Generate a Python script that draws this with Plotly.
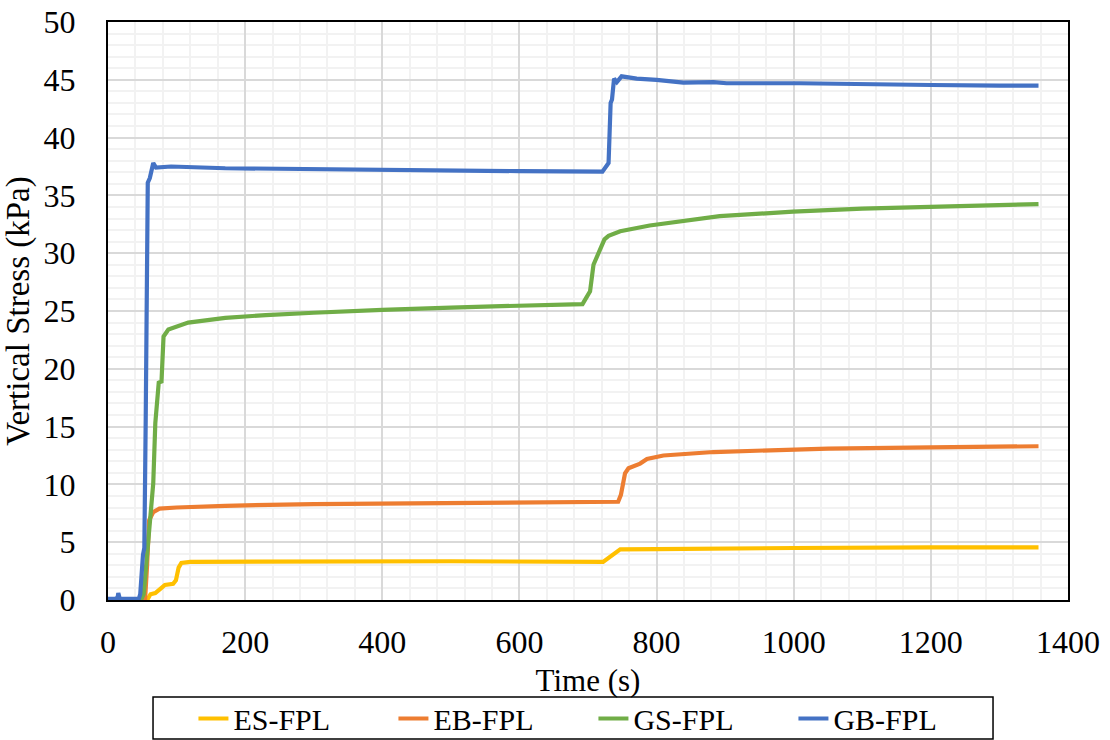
import plotly.graph_objects as go

# ---- data ----
es_t = [0, 57, 62, 69, 75, 83, 95, 99, 103, 107, 120, 300, 500, 722, 733, 747, 800, 883, 1000, 1200, 1357]
es_v = [0, 0, 0.5, 0.6, 0.9, 1.3, 1.4, 1.7, 2.8, 3.2, 3.3, 3.35, 3.35, 3.3, 3.75, 4.38, 4.4, 4.45, 4.5, 4.55, 4.55]

eb_t = [0, 54, 57, 60, 66, 75, 100, 171, 300, 400, 500, 600, 700, 744, 748, 754, 759, 776, 786, 810, 883, 1000, 1050, 1200, 1357]
eb_v = [0, 0, 3.0, 6.9, 7.6, 7.9, 8.0, 8.15, 8.3, 8.35, 8.4, 8.45, 8.5, 8.5, 9.1, 10.96, 11.4, 11.8, 12.2, 12.5, 12.8, 13.0, 13.1, 13.2, 13.3]

gs_t = [0, 48, 52, 56, 62, 66, 69, 74, 78, 81, 88, 117, 171, 230, 300, 350, 400, 500, 600, 692, 698, 703, 708, 713, 718, 724, 730, 747, 790, 892, 999, 1100, 1199, 1300, 1357]
gs_v = [0, 0, 0.5, 3.2, 6.5, 10.1, 15.3, 18.8, 18.9, 22.8, 23.4, 24.0, 24.4, 24.65, 24.85, 25.0, 25.1, 25.3, 25.45, 25.6, 26.2, 26.7, 29.0, 29.7, 30.3, 31.2, 31.5, 31.9, 32.4, 33.2, 33.6, 33.85, 34.0, 34.15, 34.25]

gb_t = [0, 10, 14, 15, 17, 20, 45, 47, 51, 53, 55, 58, 61, 63, 66, 70, 92, 171, 300, 400, 500, 600, 721, 730, 733, 735, 738, 742, 749, 771, 800, 839, 883, 902, 1009, 1100, 1200, 1300, 1357]
gb_v = [0.1, 0.1, 0.2, 0.6, 0.15, 0.1, 0.1, 0.5, 3.9, 4.5, 15.6, 36.1, 36.5, 37.0, 37.8, 37.4, 37.5, 37.35, 37.25, 37.2, 37.15, 37.1, 37.05, 37.8, 43.0, 43.3, 45.1, 44.8, 45.3, 45.1, 45.0, 44.75, 44.8, 44.7, 44.7, 44.6, 44.55, 44.5, 44.5]

series_names = ["ES-FPL", "EB-FPL", "GS-FPL", "GB-FPL"]
series_colors = ["#FFC000", "#ED7D31", "#70AD47", "#4472C4"]
series_data = [(es_t, es_v), (eb_t, eb_v), (gs_t, gs_v), (gb_t, gb_v)]

FONT = "Liberation Serif"
FS = 32
LFS = 30

fig = go.Figure()
for name, color, (t, v) in zip(series_names, series_colors, series_data):
    fig.add_trace(go.Scatter(x=t, y=v, mode="lines", name=name,
                             line=dict(color=color, width=4.2)))

# legend frame (drawn as a paper-referenced rectangle)
fig.add_shape(type="rect", xref="paper", yref="paper",
              x0=0.0469, x1=0.9219, y0=-0.2405, y1=-0.1678,
              line=dict(color="black", width=1.5), fillcolor="rgba(0,0,0,0)")

fig.update_layout(
    width=1110, height=740,
    margin=dict(l=108, r=42, t=22, b=140, autoexpand=False),
    paper_bgcolor="white", plot_bgcolor="white",
    font=dict(family=FONT, size=FS, color="black"),
    legend=dict(orientation="h", x=0.089, xanchor="left", y=-0.160, yanchor="top",
                borderwidth=0, entrywidth=155, bgcolor="rgba(0,0,0,0)",
                font=dict(family=FONT, size=LFS, color="black"),
                tracegroupgap=0),
    showlegend=True,
)
fig.update_xaxes(
    range=[0, 1400], dtick=200, tick0=0,
    showline=True, linecolor="black", linewidth=2, mirror=True,
    showgrid=True, gridcolor="#D9D9D9", gridwidth=1.5,
    minor=dict(dtick=40, showgrid=True, gridcolor="#F2F2F2", gridwidth=1.5),
    zeroline=False, ticks="", ticklabelstandoff=13,
    tickfont=dict(family=FONT, size=FS, color="black"),
    title=dict(text="Time (s)", standoff=10, font=dict(family=FONT, size=31, color="black")),
)
fig.update_yaxes(
    range=[0, 50], dtick=5, tick0=0,
    showline=True, linecolor="black", linewidth=2, mirror=True,
    showgrid=True, gridcolor="#D9D9D9", gridwidth=1.5,
    minor=dict(dtick=1, showgrid=True, gridcolor="#F2F2F2", gridwidth=1.5),
    zeroline=False, ticks="", ticklabelstandoff=24,
    tickfont=dict(family=FONT, size=FS, color="black"),
    title=dict(text="Vertical Stress (kPa)", standoff=4, font=dict(family=FONT, size=33, color="black")),
)

fig.write_html("out.html")
